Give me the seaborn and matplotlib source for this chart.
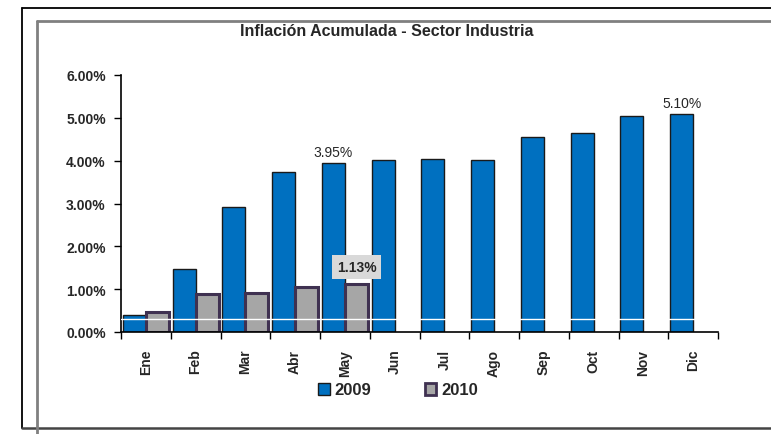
import pandas as pd
import matplotlib.pyplot as plt
import seaborn as sns
from matplotlib.lines import Line2D
from matplotlib.patches import Patch

meses = ['Ene', 'Feb', 'Mar', 'Abr', 'May', 'Jun', 'Jul', 'Ago', 'Sep', 'Oct', 'Nov', 'Dic']
inflacion_2009 = [0.40, 1.47, 2.92, 3.74, 3.95, 4.02, 4.05, 4.02, 4.56, 4.65, 5.05, 5.10]
inflacion_2010 = [0.47, 0.89, 0.91, 1.04, 1.13]

df = pd.DataFrame({
    'mes': meses + meses[:len(inflacion_2010)],
    'valor': inflacion_2009 + inflacion_2010,
    'anio': ['2009'] * len(meses) + ['2010'] * len(inflacion_2010),
})

sns.set_style('white')
plt.rcParams['font.family'] = ['Liberation Sans', 'DejaVu Sans']

W, H = 771, 435
fig = plt.figure(figsize=(W / 100, H / 100), dpi=100)
ax = fig.add_axes([121 / W, 1 - 333 / H, (718 - 121) / W, (333 - 76) / H])

colores = {'2009': '#0070C0', '2010': '#A6A6A6'}
sns.barplot(data=df, x='mes', y='valor', hue='anio', order=meses, hue_order=['2009', '2010'],
            palette=colores, width=0.92, ax=ax, legend=False, saturation=1)

# bordes de las barras
for bar in ax.patches[:len(meses)]:
    bar.set_edgecolor('#1a1a1a')
    bar.set_linewidth(1.0)
for bar in ax.patches[len(meses):]:
    bar.set_edgecolor('#3F3151')
    bar.set_linewidth(2.2)

# linea blanca que atraviesa las barras
ax.axhline(0.30, color='white', lw=1.0, zorder=5)

ax.set_xlim(-0.5, len(meses) - 0.5)
ax.set_ylim(0, 6)
ax.set_yticks([0, 1, 2, 3, 4, 5, 6])
ax.set_yticklabels([f'{v:.2f}%' for v in range(7)], fontsize=10, fontweight='bold')
ax.set_xticks(range(len(meses)))
ax.set_xticklabels(meses, rotation=90, fontsize=10, fontweight='bold')
ax.set_xticks([i - 0.5 for i in range(len(meses) + 1)], minor=True)
ax.tick_params(axis='x', which='major', length=0, pad=12)
ax.tick_params(axis='x', which='minor', length=5, width=1, color='black', direction='out', bottom=True)
ax.tick_params(axis='y', length=5, width=1, color='black', direction='out', left=True, pad=6)
ax.set_xlabel('')
ax.set_ylabel('')
sns.despine(ax=ax)
for s in ['left', 'bottom']:
    ax.spines[s].set_color('black')
    ax.spines[s].set_linewidth(1.2)

# etiquetas de datos
ax.text(4 - 0.23, 3.95 + 0.08, '3.95%', ha='center', va='bottom', fontsize=10)
ax.text(11 - 0.23, 5.10 + 0.08, '5.10%', ha='center', va='bottom', fontsize=10)
ax.text(4 + 0.24, 1.52, '1.13%', ha='center', va='center', fontsize=10, fontweight='bold',
        bbox=dict(boxstyle='square,pad=0.35', fc='#D9D9D9', ec='none'))

fig.text(387 / W, 1 - 31 / H, 'Inflación Acumulada - Sector Industria', ha='center', va='center',
         fontsize=11.5, fontweight='bold')

handles = [Patch(facecolor='#0070C0', edgecolor='#1a1a1a', lw=1.0, label='2009'),
           Patch(facecolor='#A6A6A6', edgecolor='#3F3151', lw=2.0, label='2010')]
fig.legend(handles=handles, loc='center', bbox_to_anchor=(398 / W, 1 - 391 / H), ncol=2, frameon=False,
           prop={'weight': 'bold', 'size': 12}, handlelength=0.7, handleheight=0.7,
           handletextpad=0.3, columnspacing=3.2)

# marcos del grafico
def linea(x0, y0, x1, y1, color, lw):
    fig.add_artist(Line2D([x0 / W, x1 / W], [1 - y0 / H, 1 - y1 / H], color=color, lw=lw))

linea(22, 9, W, 9, 'black', 1.3)
linea(22, 9, 22, 429, 'black', 1.3)
linea(22, 429, W, 429, '#444444', 1.8)
linea(37, 22, W, 22, '#808080', 2.0)
linea(37, 22, 37, H, '#808080', 2.0)

fig.savefig('out.png', dpi=100)
